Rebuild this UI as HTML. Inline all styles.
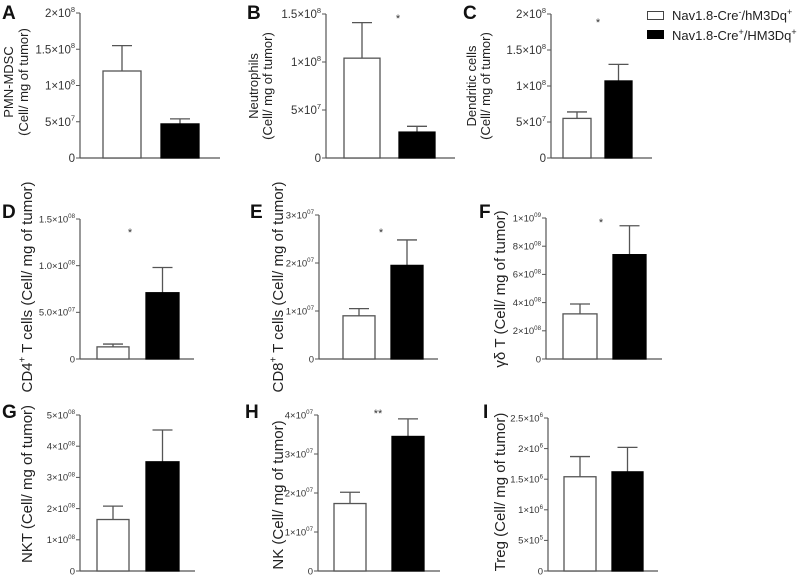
<!DOCTYPE html>
<html><head><meta charset="utf-8">
<style>
html,body{margin:0;padding:0;background:#fff;}
svg{display:block;font-family:"Liberation Sans",sans-serif;}
</style></head>
<body>
<svg id="fig" width="797" height="576" viewBox="0 0 797 576" xmlns="http://www.w3.org/2000/svg">
<g>
  <rect x="647.5" y="11.5" width="16" height="8" fill="#fff" stroke="#444"/>
  <text x="672" y="20" font-size="13" fill="#222">Nav1.8-Cre<tspan dy="-5" font-size="9">-</tspan><tspan dy="5">/hM3Dq</tspan><tspan dy="-5" font-size="9">+</tspan></text>
  <rect x="647.5" y="30.5" width="16" height="8" fill="#000" stroke="#000"/>
  <text x="672" y="40" font-size="13" fill="#222">Nav1.8-Cre<tspan dy="-5" font-size="9">+</tspan><tspan dy="5">/HM3Dq</tspan><tspan dy="-5" font-size="9">+</tspan></text>
</g>
</svg>
<script>
// ---- data ----
const groups = ["Nav1.8-Cre-/hM3Dq+", "Nav1.8-Cre+/HM3Dq+"];
const meanA = [1.2e8, 0.47e8];   const errA = [1.55e8, 0.54e8];
const ticksA = [0, 0.5e8, 1e8, 1.5e8, 2e8];
const tickLabelsA = ["0", "5×10|7", "1×10|8", "1.5×10|8", "2×10|8"];
const meanB = [1.04e8, 0.27e8];  const errB = [1.41e8, 0.33e8];
const ticksB = [0, 0.5e8, 1e8, 1.5e8];
const tickLabelsB = ["0", "5×10|7", "1×10|8", "1.5×10|8"];
const meanC = [0.55e8, 1.07e8];  const errC = [0.64e8, 1.30e8];
const ticksC = [0, 0.5e8, 1e8, 1.5e8, 2e8];
const tickLabelsC = ["0", "5×10|7", "1×10|8", "1.5×10|8", "2×10|8"];
const meanD = [0.13e8, 0.71e8];  const errD = [0.16e8, 0.98e8];
const ticksD = [0, 0.5e8, 1e8, 1.5e8];
const tickLabelsD = ["0", "5.0×10|07", "1.0×10|08", "1.5×10|08"];
const meanE = [0.9e7, 1.95e7];   const errE = [1.05e7, 2.48e7];
const ticksE = [0, 1e7, 2e7, 3e7];
const tickLabelsE = ["0", "1×10|07", "2×10|07", "3×10|07"];
const meanF = [3.2e8, 7.4e8];    const errF = [3.9e8, 9.45e8];
const ticksF = [0, 2e8, 4e8, 6e8, 8e8, 1e9];
const tickLabelsF = ["0", "2×10|08", "4×10|08", "6×10|08", "8×10|08", "1×10|09"];
const meanG = [1.65e8, 3.5e8];   const errG = [2.08e8, 4.52e8];
const ticksG = [0, 1e8, 2e8, 3e8, 4e8, 5e8];
const tickLabelsG = ["0", "1×10|08", "2×10|08", "3×10|08", "4×10|08", "5×10|08"];
const meanH = [1.73e7, 3.45e7];  const errH = [2.02e7, 3.9e7];
const ticksH = [0, 1e7, 2e7, 3e7, 4e7];
const tickLabelsH = ["0", "1×10|07", "2×10|07", "3×10|07", "4×10|07"];
const meanI = [1.54e6, 1.62e6];  const errI = [1.87e6, 2.02e6];
const ticksI = [0, 0.5e6, 1e6, 1.5e6, 2e6, 2.5e6];
const tickLabelsI = ["0", "5×10|5", "1×10|6", "1.5×10|6", "2×10|6", "2.5×10|6"];

// ---- layout ----
const panels = [
 {id:"a",letter:"A",lx:2,ly:19,ax:80,y0:158,y1:13,bars:[[103,141],[161,199]],end:220,mean:meanA,err:errA,ticks:ticksA,labels:tickLabelsA,fs:11.5,tfs:13,title:["PMN-MDSC","(Cell/ mg of tumor)"],tx:[13,28],ty:82,star:null},
 {id:"b",letter:"B",lx:247,ly:19,ax:326,y0:158,y1:14,bars:[[344,380],[399,435]],end:455,mean:meanB,err:errB,ticks:ticksB,labels:tickLabelsB,fs:11.5,tfs:13,title:["Neutrophils","(Cell/ mg of tumor)"],tx:[258,272],ty:86,star:[398,22,"*"]},
 {id:"c",letter:"C",lx:463,ly:19,ax:551,y0:158,y1:14,bars:[[563,591],[605,632]],end:652,mean:meanC,err:errC,ticks:ticksC,labels:tickLabelsC,fs:11.5,tfs:13,title:["Dendritic cells","(Cell/ mg of tumor)"],tx:[476,490],ty:86,star:[598,26,"*"]},
 {id:"d",letter:"D",lx:2,ly:218,ax:80,y0:359,y1:219,bars:[[97,129],[146,179]],end:194,mean:meanD,err:errD,ticks:ticksD,labels:tickLabelsD,fs:9.5,tfs:15,title:["CD4|+| T cells (Cell/ mg of tumor)"],tx:[32],ty:287,star:[130,236,"*"]},
 {id:"e",letter:"E",lx:250,ly:218,ax:319,y0:359,y1:215,bars:[[343,375],[391,423]],end:438,mean:meanE,err:errE,ticks:ticksE,labels:tickLabelsE,fs:9.5,tfs:15,title:["CD8|+| T cells (Cell/ mg of tumor)"],tx:[283],ty:287,star:[381,236,"*"]},
 {id:"f",letter:"F",lx:479,ly:218,ax:546,y0:359,y1:218,bars:[[563,597],[613,646]],end:662,mean:meanF,err:errF,ticks:ticksF,labels:tickLabelsF,fs:9.5,tfs:15,title:["γδ T (Cell/ mg of tumor)"],tx:[505],ty:289,star:[601,226,"*"]},
 {id:"g",letter:"G",lx:2,ly:418,ax:80,y0:571,y1:415,bars:[[97,129],[146,179]],end:195,mean:meanG,err:errG,ticks:ticksG,labels:tickLabelsG,fs:9.5,tfs:15,title:["NKT (Cell/ mg of tumor)"],tx:[32],ty:484,star:null},
 {id:"h",letter:"H",lx:245,ly:418,ax:318,y0:571,y1:415,bars:[[334,366],[392,424]],end:440,mean:meanH,err:errH,ticks:ticksH,labels:tickLabelsH,fs:9.5,tfs:15,title:["NK (Cell/ mg of tumor)"],tx:[283],ty:495,star:[378,417,"**"]},
 {id:"i",letter:"I",lx:483,ly:418,ax:548,y0:571,y1:418,bars:[[564,596],[612,643]],end:658,mean:meanI,err:errI,ticks:ticksI,labels:tickLabelsI,fs:9.5,tfs:15,title:["Treg (Cell/ mg of tumor)"],tx:[505],ty:492,star:null}
];

const NS = "http://www.w3.org/2000/svg";
const svg = document.getElementById("fig");
function mk(tag, attrs, parent){
  const e = document.createElementNS(NS, tag);
  for (const k in attrs) e.setAttribute(k, attrs[k]);
  parent.appendChild(e);
  return e;
}
function richText(el, str, fs){
  const parts = str.split("|");
  parts.forEach((p, i) => {
    const t = document.createElementNS(NS, "tspan");
    if (i % 2 === 1){ t.setAttribute("dy", -fs*0.45); t.setAttribute("font-size", fs*0.65); }
    else if (i > 0){ t.setAttribute("dy", fs*0.45); }
    t.textContent = p;
    el.appendChild(t);
  });
}

panels.forEach(p => {
  const g = mk("g", {}, svg);
  
  
  const tmax = p.ticks[p.ticks.length-1];
  const yS = v => p.y0 - (v / tmax) * (p.y0 - p.y1);

  const L = mk("text", {x:p.lx, y:p.ly, "font-size":19, "font-weight":"bold", fill:"#111"}, g);
  L.textContent = p.letter;
  
  

  const ya = mk("line", {x1:p.ax, y1:p.y1, x2:p.ax, y2:p.y0, stroke:"#555", "stroke-width":1.2}, g);
  
  
  const xa = mk("line", {x1:p.ax, y1:p.y0, x2:p.end, y2:p.y0, stroke:"#555", "stroke-width":1.2}, g);
  
  

  p.ticks.forEach((v, i) => {
    const y = yS(v);
    const tk = mk("line", {x1:p.ax-4, y1:y, x2:p.ax, y2:y, stroke:"#555", "stroke-width":1}, g);
    
    
    const t = mk("text", {x:p.ax-5, y:y + p.fs*0.35, "font-size":p.fs, fill:"#333", "text-anchor":"end"}, g);
    richText(t, p.labels[i], p.fs);
    
    
  });

  p.title.forEach((line, i) => {
    const t = mk("text", {x:0, y:0, "font-size":p.tfs, fill:"#222", "text-anchor":"middle",
      transform:"translate(" + p.tx[i] + "," + p.ty + ") rotate(-90)"}, g);
    richText(t, line, p.tfs);
    
    
  });

  p.mean.forEach((m, i) => {
    const [x0, x1] = p.bars[i];
    const cx = (x0 + x1) / 2;
    const ye = yS(p.err[i]);
    const yt = yS(m);
    const el = mk("line", {x1:cx, y1:yt, x2:cx, y2:ye, stroke:"#555", "stroke-width":1.3}, g);
    
    
    const cap = mk("line", {x1:cx-10, y1:ye, x2:cx+10, y2:ye, stroke:"#555", "stroke-width":1.3}, g);
    
    
    const r = mk("rect", {x:x0, y:yt, width:x1-x0, height:p.y0-yt,
      fill: i===0 ? "#fff" : "#000", stroke: i===0 ? "#555" : "#000", "stroke-width":1.3}, g);
    
    
  });

  if (p.star){
    const s = mk("text", {x:p.star[0], y:p.star[1], "font-size":11, fill:"#333", "text-anchor":"middle"}, g);
    s.textContent = p.star[2];
    
    
  }
});
</script>
</body></html>
